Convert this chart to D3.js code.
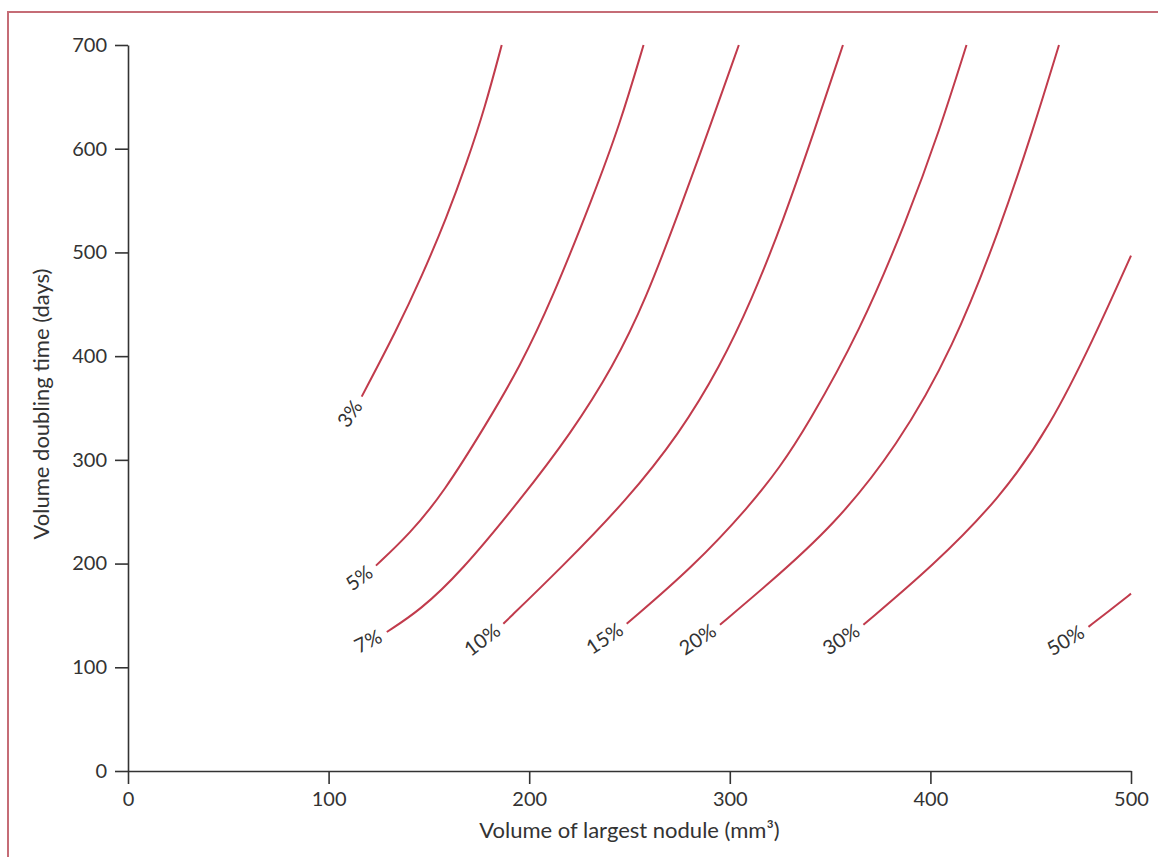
<!DOCTYPE html>
<html>
<head>
<meta charset="utf-8">
<script src="https://cdn.jsdelivr.net/npm/d3@7"></script>
<style>
  body { margin: 0; background: #fff; }
  text { font-family: Lato, "Open Sans", sans-serif; fill: #333; }
</style>
</head>
<body>
<div id="chart"></div>
<script>
// tick values
var xTicks = [0, 100, 200, 300, 400, 500];
var yTicks = [0, 100, 200, 300, 400, 500, 600, 700];

// contour labels (probability)
var curveLabels = ["3%", "5%", "7%", "10%", "15%", "20%", "30%", "50%"];

// [volume mm3, doubling time days]
var curve3  = [[116.5, 361], [133.9, 425], [146.5, 477], [158.9, 534], [168.8, 586], [178, 640], [186.3, 700]];
var curve5  = [[123.6, 198], [140.6, 229], [157.2, 268], [178.8, 335], [195.4, 390], [211.2, 454], [231.9, 554], [245.3, 624], [257, 700]];
var curve7  = [[129, 134], [145.6, 155], [165.5, 191], [195.4, 261], [221, 326], [241.9, 390], [258, 454], [275, 541], [289.5, 618], [304.5, 700]];
var curve10 = [[187.1, 142], [216.5, 197], [248.6, 261], [275.2, 326], [295.1, 390], [310.9, 454], [326.7, 531], [342.3, 618], [356.4, 700]];
var curve15 = [[248.6, 142], [281.8, 197], [310.1, 256], [325, 293], [338.3, 332], [364.9, 424], [388.2, 531], [404.8, 619], [418, 700]];
var curve20 = [[295.1, 141], [318.4, 179], [351.6, 236], [383.5, 313], [411.4, 408], [434.7, 523], [451.3, 619], [464.1, 700]];
var curve30 = [[366.6, 141], [401.4, 198], [434.7, 263], [459.6, 332], [481.2, 416], [500, 497]];
var curve50 = [[478.8, 139], [489.5, 155], [500, 171]];

var curves = [curve3, curve5, curve7, curve10, curve15, curve20, curve30, curve50];

var totalWidth = 1158, totalHeight = 857;
var margin = { top: 45, right: 27, bottom: 86, left: 128 };
var width = totalWidth - margin.left - margin.right;
var height = totalHeight - margin.top - margin.bottom;

var svg = d3.select("#chart").append("svg")
    .attr("width", totalWidth)
    .attr("height", totalHeight);

// frame (left + top rule)
svg.append("path")
    .attr("d", "M8," + totalHeight + "V12H" + totalWidth)
    .attr("fill", "none")
    .attr("stroke", "#c56c76")
    .attr("stroke-width", 2);

var g = svg.append("g")
    .attr("transform", "translate(" + margin.left + "," + margin.top + ")");

var x = d3.scaleLinear().domain([0, 500]).range([0, width]);
var y = d3.scaleLinear().domain([0, 700]).range([height, 0]);

var xAxis = g.append("g")
    .attr("transform", "translate(0," + height + ")")
    .call(d3.axisBottom(x).tickValues(xTicks).tickSize(13).tickSizeOuter(0).tickPadding(8));

var yAxis = g.append("g")
    .call(d3.axisLeft(y).tickValues(yTicks).tickSize(13).tickSizeOuter(0).tickPadding(8));

[xAxis, yAxis].forEach(function(a) {
  a.selectAll("path, line").attr("stroke", "#333").attr("stroke-width", 1.6);
  a.selectAll("text").attr("font-size", 20).attr("fill", "#333")
    .style("font-family", "Lato, sans-serif");
});

// axis titles
g.append("text")
    .attr("x", width / 2)
    .attr("y", height + 67)
    .attr("text-anchor", "middle")
    .attr("font-size", 22)
    .text("Volume of largest nodule (mm³)");

g.append("text")
    .attr("transform", "translate(" + (-79) + "," + (height / 2 - 4) + ") rotate(-90)")
    .attr("text-anchor", "middle")
    .attr("font-size", 22)
    .text("Volume doubling time (days)");

var line = d3.line()
    .x(function(d) { return x(d[0]); })
    .y(function(d) { return y(d[1]); })
    .curve(d3.curveBasis);

curves.forEach(function(c, i) {
  var p = g.append("path")
      .datum(c)
      .attr("d", line)
      .attr("fill", "none")
      .attr("stroke", "#c13b4c")
      .attr("stroke-width", 2);

  // label sits before the start of the curve, along its (flattening) direction
  var node = p.node();
  var p0 = node.getPointAtLength(0);
  var p1 = node.getPointAtLength(12);
  var angle = Math.atan2(p1.y - p0.y, p1.x - p0.x) * 180 / Math.PI + 7;
  var rad = angle * Math.PI / 180;
  var ux = Math.cos(rad), uy = Math.sin(rad);

  var t = g.append("text")
      .attr("font-size", 20)
      .attr("text-anchor", "middle")
      .attr("dy", "0.35em")
      .text(curveLabels[i]);
  var half = t.node().getComputedTextLength() / 2;
  var cx = p0.x - ux * (half + 7);
  var cy = p0.y - uy * (half + 7);
  t.attr("transform", "translate(" + cx + "," + cy + ") rotate(" + angle + ")");
});
</script>
</body>
</html>
